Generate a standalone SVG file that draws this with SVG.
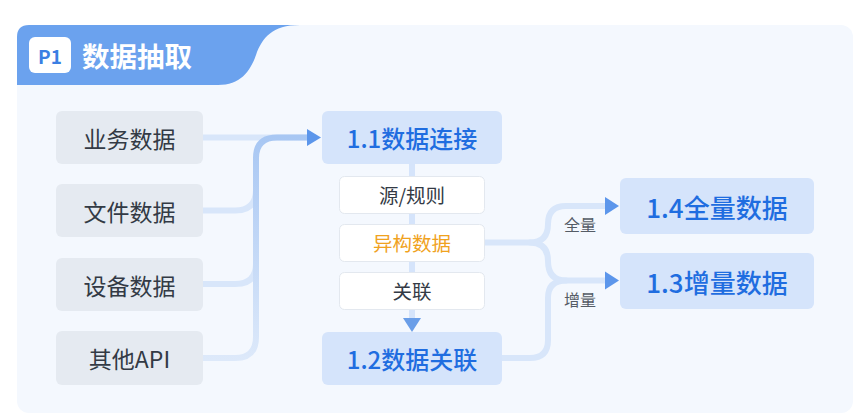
<svg xmlns="http://www.w3.org/2000/svg" width="854" height="417" viewBox="0 0 854 417">
<style>
text{font-family:"Noto Sans CJK SC","Noto Sans",sans-serif;dominant-baseline:central;text-anchor:middle}
.src rect{fill:#e5eaf1}
.src text{font-size:23px;fill:#333a45}
.blue rect{fill:#d5e4fb}
.blue text{fill:#1f6de0;font-weight:500}
.tag rect{fill:#ffffff;stroke:#e3e8ef;stroke-width:1}
.tag text{font-size:19.5px;fill:#333a45}
.tag text.hl{fill:#f0a21e}
.ln{fill:none;stroke:#d8e6fa;stroke-width:6;stroke-linecap:round;stroke-linejoin:round}
.ah{fill:#5c96eb}
.lbl{font-size:16px;fill:#555c66}
</style>
<defs>
<linearGradient id="trunk" gradientUnits="userSpaceOnUse" x1="0" y1="137" x2="0" y2="360">
<stop offset="0" stop-color="#a8c7f3"/>
<stop offset="1" stop-color="#dde9fa"/>
</linearGradient>
</defs>
<rect width="854" height="417" fill="#ffffff"/>
<g id="panel">
<rect x="17" y="25" width="836" height="388" rx="12" fill="#f4f8fe"/>
<path d="M17,85 V37 Q17,25 29,25 H300 C272,25 262,38 256,55 C250,72 240,85 218,85 Z" fill="#6ba2ee"/>
<rect x="29" y="37" width="42" height="36" rx="6" fill="#ffffff"/>
<text x="50" y="55" style="font-size:19px;font-weight:700;fill:#3b7fe3">P1</text>
<text x="137" y="55" style="font-size:27.5px;font-weight:700;fill:#ffffff">数据抽取</text>
</g>
<g id="connectors">
<path class="ln" d="M203,137.5 H307"/>
<path class="ln" d="M203,210.5 H235 Q256,210.5 256,190"/>
<path class="ln" d="M203,284 H235 Q256,284 256,264"/>
<path class="ln" style="stroke:url(#trunk)" d="M203,358 H235 Q256,358 256,337 V158 Q256,137.5 277,137.5 H307"/>
<path class="ah" d="M307,129 L321,137.5 L307,146 Z"/>
<path class="ln" style="stroke:#d5e4fb" d="M412,164 V318"/>
<path class="ah" style="fill:#6a9ee8" d="M403,318 L421,318 L412,332 Z"/>
<path class="ln" d="M484,242.5 H530 Q548,242.5 548,224 Q548,206 566,206 H606"/>
<path class="ln" d="M530,242.5 Q548,242.5 548,261 Q548,280.5 566,280.5 H606"/>
<path class="ln" d="M502,358 H530 Q548,358 548,340 V298 Q548,280.5 566,280.5"/>
<path class="ah" d="M605,197 L619,206 L605,215 Z"/>
<path class="ah" d="M605,271.5 L619,280.5 L605,289.5 Z"/>
<text class="lbl" x="580" y="224">全量</text>
<text class="lbl" x="580" y="299">增量</text>
</g>
<g id="src1" class="src"><rect x="56" y="111" width="147" height="53" rx="6"/><text x="129.5" y="137.5">业务数据</text></g>
<g id="src2" class="src"><rect x="56" y="184" width="147" height="53" rx="6"/><text x="129.5" y="210.5">文件数据</text></g>
<g id="src3" class="src"><rect x="56" y="258" width="147" height="53" rx="6"/><text x="129.5" y="284.5">设备数据</text></g>
<g id="src4" class="src"><rect x="56" y="331" width="147" height="54" rx="6"/><text x="129.5" y="358">其他API</text></g>
<g id="n11" class="blue"><rect x="322" y="111" width="180" height="53" rx="6"/><text x="412" y="137.5" style="font-size:24px">1.1数据连接</text></g>
<g id="tag1" class="tag"><rect x="339.5" y="176.5" width="145" height="37" rx="5"/><text x="412" y="194">源/规则</text></g>
<g id="tag2" class="tag"><rect x="339.5" y="224.5" width="145" height="37" rx="5"/><text class="hl" x="412" y="242">异构数据</text></g>
<g id="tag3" class="tag"><rect x="339.5" y="272.5" width="145" height="37" rx="5"/><text x="412" y="290">关联</text></g>
<g id="n12" class="blue"><rect x="322" y="332" width="180" height="53" rx="6"/><text x="412" y="358.5" style="font-size:24px">1.2数据关联</text></g>
<g id="n14" class="blue"><rect x="620" y="178" width="194" height="56" rx="6"/><text x="717" y="206" style="font-size:26px">1.4全量数据</text></g>
<g id="n13" class="blue"><rect x="620" y="253" width="194" height="56" rx="6"/><text x="717" y="281" style="font-size:26px">1.3增量数据</text></g>
</svg>
